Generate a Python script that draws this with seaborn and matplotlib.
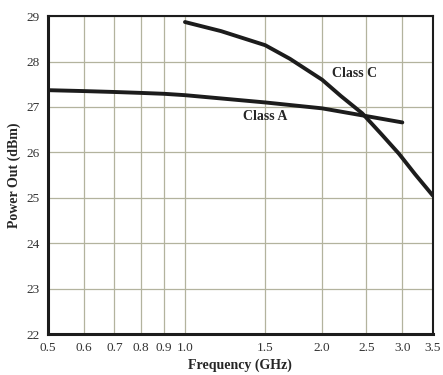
import numpy as np
import pandas as pd
import matplotlib
matplotlib.use("Agg")
import matplotlib.pyplot as plt
from matplotlib.ticker import FixedLocator, NullLocator
import seaborn as sns

# Datos (frecuencia en GHz, potencia en dBm)
freq_a = [0.5, 0.6, 0.7, 0.8, 0.9, 1.0, 1.5, 2.0, 2.5, 3.0]
pout_a = [27.37, 27.35, 27.33, 27.31, 27.29, 27.26, 27.10, 26.97, 26.80, 26.66]

freq_c = [1.0, 1.2, 1.5, 1.7, 2.0, 2.2, 2.45, 2.7, 2.95, 3.2, 3.5]
pout_c = [28.87, 28.67, 28.36, 28.06, 27.60, 27.24, 26.86, 26.40, 25.97, 25.52, 25.05]

x_ticks = [0.5, 0.6, 0.7, 0.8, 0.9, 1.0, 1.5, 2.0, 2.5, 3.0, 3.5]
x_labels = ["0.5", "0.6", "0.7", "0.8", "0.9", "1.0", "1.5", "2.0", "2.5", "3.0", "3.5"]
y_ticks = [22, 23, 24, 25, 26, 27, 28, 29]

df = pd.concat([
    pd.DataFrame({"freq": freq_a, "pout": pout_a, "clase": "Class A"}),
    pd.DataFrame({"freq": freq_c, "pout": pout_c, "clase": "Class C"}),
])

sns.set_style("white")
plt.rcParams['font.family'] = ['Liberation Serif', 'DejaVu Serif']

fig = plt.figure(figsize=(4.43, 3.75), dpi=100)
ax = fig.add_axes([0.108, 0.109, 0.869, 0.848])

sns.lineplot(data=df, x="freq", y="pout", hue="clase", units="clase",
             estimator=None, palette={"Class A": "#1c1c1c", "Class C": "#1c1c1c"},
             linewidth=2.8, legend=False, ax=ax, sort=True,
             solid_joinstyle="round", solid_capstyle="round")

ax.set_xscale("log")
ax.set_xlim(0.5, 3.5)
ax.set_ylim(22, 29)
ax.xaxis.set_major_locator(FixedLocator(x_ticks))
ax.xaxis.set_minor_locator(NullLocator())
ax.set_xticklabels(x_labels)
ax.set_yticks(y_ticks)

ax.grid(True, color="#b3b39e", linewidth=0.9)
ax.tick_params(length=0, labelsize=9.5, colors="#333333", pad=6)

for lado in ["left", "bottom"]:
    ax.spines[lado].set_linewidth(2.2)
for lado in ["top", "right"]:
    ax.spines[lado].set_linewidth(1.5)
for sp in ax.spines.values():
    sp.set_color("#1c1c1c")
    sp.set_visible(True)

ax.set_xlabel("Frequency (GHz)", fontsize=10, fontweight="bold", labelpad=3)
ax.set_ylabel("Power Out (dBm)", fontsize=10, fontweight="bold", labelpad=4)

ax.text(2.36, 27.74, "Class C", fontsize=10, fontweight="bold", ha="center", va="center")
ax.text(1.5, 26.78, "Class A", fontsize=10, fontweight="bold", ha="center", va="center")

fig.savefig("out.png", dpi=100)
